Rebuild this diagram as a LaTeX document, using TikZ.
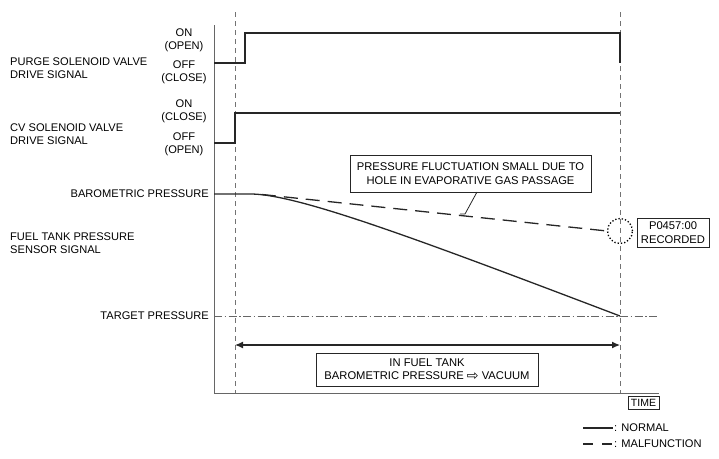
\documentclass[tikz,border=0pt]{standalone}
\usepackage{fontspec}
\setmainfont{Liberation Sans}
\newfontfamily\symfont{DejaVu Sans}
\usetikzlibrary{arrows.meta}
\begin{document}
\begin{tikzpicture}[x=1pt,y=-1pt,
  lbl/.style={inner sep=0pt,font=\fontsize{11.1}{13.4}\selectfont},
  lblc/.style={lbl,align=center},
  lbll/.style={lbl,align=left,anchor=west},
  boxed/.style={draw=black!85,line width=0.8pt,inner sep=0pt,align=center,font=\fontsize{11.2}{13.6}\selectfont},
  sig/.style={line width=1.3pt,black!85},
  axisl/.style={line width=0.7pt,black!60},
  marker/.style={dashed,dash pattern=on 5pt off 4pt,line width=0.7pt,black!55},
  mal/.style={line width=1.3pt,black!85,dash pattern=on 14pt off 8pt}]
\useasboundingbox (0,0) rectangle (719,458);
% axes
\coordinate (axtop) at (214,25);
\coordinate (axorg) at (214,393);
\coordinate (axend) at (659,393);
\draw[axisl] (axtop) -- (axorg) -- (axend);
% time markers
\coordinate (m1t) at (235,12); \coordinate (m1b) at (235,393);
\coordinate (m2t) at (620,12); \coordinate (m2b) at (620,393);
\draw[marker] (m1t) -- (m1b);
\draw[marker] (m2t) -- (m2b);
% left labels
\node[lbll] (purge) at (10,68) {PURGE SOLENOID VALVE\\DRIVE SIGNAL};
\node[lblc] (pon) at (184,40) {ON\\(OPEN)};
\node[lblc] (poff) at (184,72) {OFF\\(CLOSE)};
\node[lbll] (cv) at (10,134) {CV SOLENOID VALVE\\DRIVE SIGNAL};
\node[lblc] (con) at (184,111) {ON\\(CLOSE)};
\node[lblc] (coff) at (184,144) {OFF\\(OPEN)};
\node[lbl,anchor=east] (baro) at (209,194) {BAROMETRIC PRESSURE};
\node[lbll] (ftp) at (10,243) {FUEL TANK PRESSURE\\SENSOR SIGNAL};
\node[lbl,anchor=east] (tgt) at (209,316) {TARGET PRESSURE};
% purge signal
\coordinate (p0) at (214,63); \coordinate (p1) at (245,63);
\coordinate (p2) at (245,33); \coordinate (p3) at (620,33); \coordinate (p4) at (620,63);
\draw[sig] (p0) -- (p1) -- (p2) -- (p3) -- (p4);
% cv signal
\coordinate (c0) at (214,143); \coordinate (c1) at (235,143);
\coordinate (c2) at (235,113); \coordinate (c3) at (620,113);
\draw[sig] (c0) -- (c1) -- (c2) -- (c3);
% target line
\coordinate (t0) at (214,316); \coordinate (t1) at (659,316);
\draw[line width=0.7pt,black!60,dash pattern=on 8pt off 2.5pt on 1.5pt off 2.5pt] (t0) -- (t1);
% pressure curves
\coordinate (b0) at (214,194); \coordinate (b1) at (252,194);
\coordinate (bend) at (620,316);
\draw[sig] (b0) -- (b1) .. controls (300,195) and (420,240) .. (bend);
\coordinate (d0) at (262,194.5); \coordinate (d1) at (607,231);
\draw[mal] (d0) -- (d1);
% dotted circle
\node[circle,draw=black,dotted,line width=1.3pt,minimum size=25pt,inner sep=0pt] (circ) at (620,231) {};
% callouts
\node[boxed,minimum width=241pt,minimum height=37pt] (fluct) at (470.5,173.5) {PRESSURE FLUCTUATION SMALL DUE TO\\HOLE IN EVAPORATIVE GAS PASSAGE};
\coordinate (lead) at (465,214);
\draw[line width=0.8pt,black!85] (fluct.south |- 477,192) ++(6.5,0) -- (lead) -- ++(-5,0);
\node[boxed,minimum width=72pt,minimum height=29pt] (rec) at (673,232.5) {P0457:00\\RECORDED};
% span arrow
\coordinate (a0) at (235,345); \coordinate (a1) at (620,345);
\draw[line width=1.2pt,black!85,{Latex[length=8pt,width=7pt]}-{Latex[length=8pt,width=7pt]}] (a0) -- (a1);
\node[boxed,minimum width=222pt,minimum height=33pt] (tank) at (427,369.5) {IN FUEL TANK\\BAROMETRIC PRESSURE {\symfont\fontsize{14}{14}\selectfont\raisebox{-0.5pt}{⇨}} VACUUM};
% time
\node[boxed,minimum width=31pt,minimum height=13pt,font=\fontsize{10.5}{12}\selectfont] (time) at (643.5,402.5) {TIME};
% legend
\coordinate (ln0) at (583,428); \coordinate (ln1) at (613,428);
\draw[sig] (ln0) -- (ln1);
\node[lbl,anchor=west] (lnorm) at (614,428) {: NORMAL};
\coordinate (lm0) at (583,444); \coordinate (lm1) at (613,444);
\draw[sig,dash pattern=on 10pt off 9pt] (lm0) -- (lm1);
\node[lbl,anchor=west] (lmal) at (614,444) {: MALFUNCTION};
\end{tikzpicture}
\end{document}
